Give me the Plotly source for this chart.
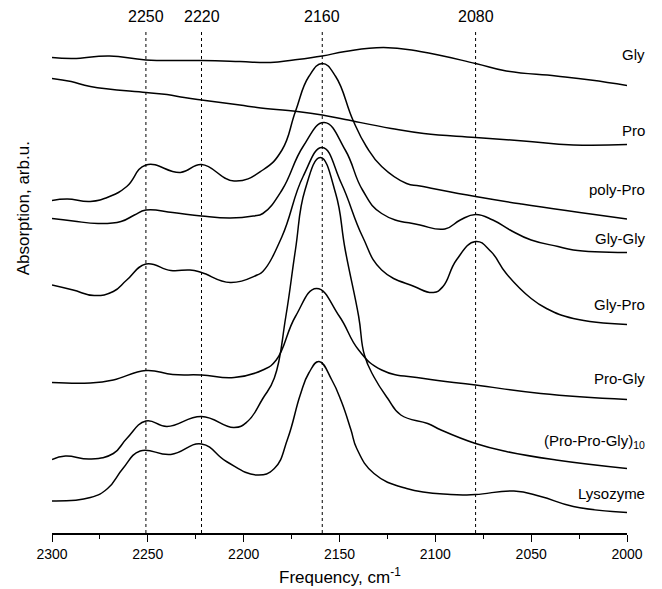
import plotly.graph_objects as go

# ---------------- data (frequency in cm^-1, absorption in arb. units, offset-stacked) -------------
gly_f = [2300, 2289, 2270, 2251, 2222, 2202, 2186, 2174, 2159, 2147, 2127, 2108, 2079, 2063, 2037, 2019, 2000]
gly_a = [95.1, 94.9, 95.4, 94.6, 94.5, 94.3, 94.1, 94.6, 95.4, 96.3, 97.1, 96.3, 93.9, 92.4, 91.4, 90.6, 89.5]

pro_f = [2300, 2290, 2280, 2251, 2240, 2231, 2222, 2202, 2193, 2172, 2159, 2147, 2123, 2106, 2079, 2054, 2028, 2000]
pro_a = [90.9, 90.3, 89.3, 88.1, 87.7, 87.1, 86.6, 85.6, 85.1, 84.3, 83.6, 82.7, 80.9, 79.9, 79.1, 78.4, 77.6, 77.7]

polypro_f = [2300, 2292, 2280, 2270, 2261, 2251, 2233, 2222, 2205, 2190, 2180, 2173, 2166, 2159,
             2152, 2143, 2136, 2128, 2115, 2108, 2079, 2055, 2000]
polypro_a = [66.5, 66.8, 66.3, 67.3, 69.3, 73.6, 72.1, 73.7, 70.4, 72.6, 76.6, 84.3, 91.3, 93.9,
             91.3, 82.6, 77.3, 73.3, 69.9, 69.4, 67.3, 65.8, 62.8]

glygly_f = [2300, 2289, 2276, 2264, 2257, 2251, 2237, 2222, 2207, 2195, 2190, 2180, 2169, 2158,
            2147, 2138, 2128, 2108, 2095, 2087, 2079, 2070, 2061, 2050, 2036, 2028, 2000]
glygly_a = [62.9, 62.4, 61.9, 62.3, 63.6, 64.6, 64.1, 63.4, 63.0, 63.4, 63.9, 68.6, 77.3, 82.1,
            76.6, 68.6, 63.9, 61.6, 60.8, 62.6, 63.7, 62.6, 60.6, 58.6, 57.3, 56.6, 56.1]

glypro_f = [2300, 2289, 2278, 2268, 2261, 2251, 2238, 2228, 2222, 2207, 2193, 2190, 2180, 2169,
            2159, 2149, 2138, 2128, 2111, 2101, 2096, 2089, 2079, 2071, 2063, 2050, 2042, 2028, 2000]
glypro_a = [49.6, 48.6, 47.5, 48.3, 50.6, 53.8, 52.5, 52.6, 52.1, 50.1, 51.6, 52.3, 59.3, 71.3,
            77.1, 69.9, 59.3, 52.6, 49.3, 48.1, 49.3, 54.6, 58.3, 56.3, 51.9, 46.9, 44.9, 42.9, 41.7]

progly_f = [2300, 2280, 2268, 2251, 2237, 2222, 2205, 2190, 2183, 2173, 2162, 2150, 2140, 2128,
            2106, 2079, 2045, 2000]
progly_a = [30.1, 30.0, 30.6, 32.5, 31.7, 31.6, 31.1, 32.6, 34.6, 43.3, 48.9, 43.3, 36.6, 32.6,
            30.9, 29.6, 27.9, 26.7]

ppg_f = [2300, 2293, 2280, 2268, 2261, 2251, 2240, 2222, 2205, 2198, 2190, 2184, 2178, 2173, 2168,
         2160, 2152, 2147, 2140, 2137, 2132, 2125, 2118, 2104, 2097, 2079, 2063, 2037, 2000]
ppg_a = [14.7, 15.4, 14.8, 15.9, 18.9, 22.4, 21.3, 23.3, 21.1, 22.3, 26.9, 31.0, 43.3, 56.6, 68.6,
         75.1, 67.9, 56.6, 43.3, 35.6, 31.2, 27.0, 23.6, 21.9, 20.6, 17.9, 16.3, 14.6, 12.9]

lyso_f = [2300, 2280, 2271, 2263, 2254, 2238, 2222, 2209, 2193, 2184, 2177, 2170.5, 2166, 2160.7,
          2154, 2149, 2144, 2141, 2132, 2115, 2092, 2079, 2059, 2045, 2028, 2000]
lyso_a = [6.4, 7.1, 8.9, 12.9, 16.4, 15.7, 17.8, 14.3, 11.6, 12.9, 18.9, 27.6, 32.0, 34.3,
          30.6, 26.3, 20.6, 16.9, 11.9, 8.9, 7.7, 7.7, 8.4, 7.3, 5.3, 4.1]

series_names = ["Gly", "Pro", "poly-Pro", "Gly-Gly", "Gly-Pro", "Pro-Gly",
                "(Pro-Pro-Gly)<sub>10</sub>", "Lysozyme"]
series_f = [gly_f, pro_f, polypro_f, glygly_f, glypro_f, progly_f, ppg_f, lyso_f]
series_a = [gly_a, pro_a, polypro_a, glygly_a, glypro_a, progly_a, ppg_a, lyso_a]
label_y = [95.8, 80.6, 68.8, 59.0, 45.8, 31.0, 18.3, 8.0]

vline_f = [2251, 2222, 2159, 2079]
vline_labels = ["2250", "2220", "2160", "2080"]

x_ticks = [2300, 2250, 2200, 2150, 2100, 2050, 2000]

FONT = "Liberation Sans, Arial, Helvetica, sans-serif"

fig = go.Figure()

for f, a in zip(series_f, series_a):
    fig.add_trace(go.Scatter(
        x=f, y=a, mode="lines",
        line=dict(color="black", width=1.5, shape="spline", smoothing=1.3),
        showlegend=False, hoverinfo="skip"))

for vf, lab in zip(vline_f, vline_labels):
    fig.add_shape(type="line", xref="x", yref="paper", x0=vf, x1=vf, y0=0, y1=1,
                  line=dict(color="black", width=1, dash="dot"), layer="below")
    fig.add_annotation(x=vf, xref="x", y=1.026, yref="paper", text=lab, showarrow=False,
                       xanchor="center", yanchor="middle",
                       font=dict(family=FONT, size=16, color="black"))

for name, ly in zip(series_names, label_y):
    fig.add_annotation(x=1.035, xref="paper", y=ly, yref="y", text=name, showarrow=False,
                       xanchor="right", yanchor="middle",
                       font=dict(family=FONT, size=15, color="black"))

fig.add_annotation(x=-0.05, xref="paper", y=0.646, yref="paper", text="Absorption, arb.u.",
                   textangle=-90, showarrow=False, xanchor="center", yanchor="middle",
                   font=dict(family=FONT, size=17, color="black"))
fig.add_annotation(x=0.5, xref="paper", y=-0.086, yref="paper", text="Frequency, cm<sup>-1</sup>",
                   showarrow=False, xanchor="center", yanchor="middle",
                   font=dict(family=FONT, size=17, color="black"))

# page body has an 8px margin, so the figure is 8px smaller and margins shifted
fig.update_layout(
    width=654, height=581,
    margin=dict(l=44, r=35, t=22, b=56),
    paper_bgcolor="white", plot_bgcolor="white",
    font=dict(family=FONT, color="black"),
    xaxis=dict(range=[2300, 2000], tickvals=x_ticks, ticks="outside", ticklen=7, tickwidth=1.3,
               tickcolor="black", showline=True, linecolor="black", linewidth=1.5,
               showgrid=False, zeroline=False,
               tickfont=dict(family=FONT, size=14, color="black"),
               minor=dict(dtick=25, tick0=2000, ticks="outside", ticklen=4, tickwidth=1.3,
                          tickcolor="black", showgrid=False)),
    yaxis=dict(range=[0, 100.6], showticklabels=False, ticks="", showline=False,
               showgrid=False, zeroline=False),
)

fig.write_html("out.html")
